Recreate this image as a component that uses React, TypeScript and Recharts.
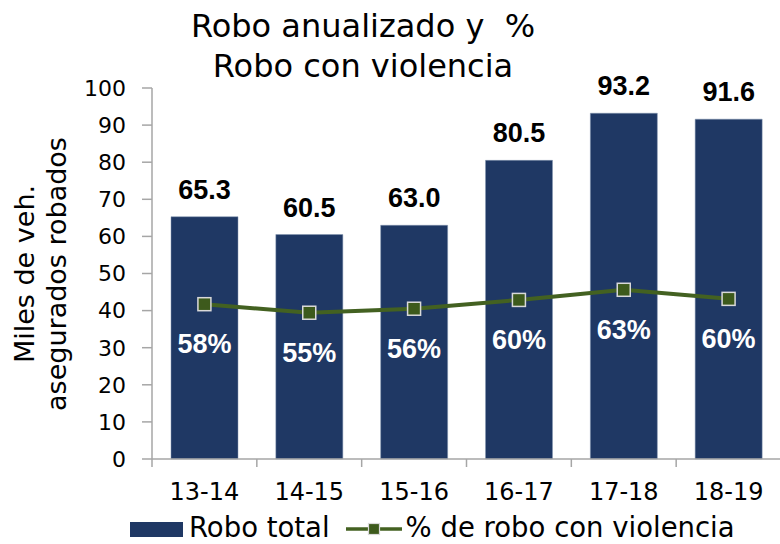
import React from 'react';
import { ComposedChart, Bar, Line, XAxis, YAxis, LabelList, Label } from 'recharts';

const categories = ['13-14', '14-15', '15-16', '16-17', '17-18', '18-19'];
const roboTotal = [65.3, 60.5, 63.0, 80.5, 93.2, 91.6];
const pctViolencia = [0.58, 0.548, 0.563, 0.596, 0.634, 0.6];
const yTicks = [0, 10, 20, 30, 40, 50, 60, 70, 80, 90, 100];

const data = categories.map((c, i) => ({ cat: c, total: roboTotal[i], pct: pctViolencia[i] }));

const FONT = '"DejaVu Sans", sans-serif';
const BOLD = '"Liberation Sans", Arial, sans-serif';
const BAR_COLOR = '#1F3864';
const LINE_COLOR = '#436121';
const MARKER_FILL = '#3D5A1C';
const AXIS_COLOR = '#A6A6A6';

const CHART_W = 780;
const CHART_H = 544;
const MARGIN = { top: 88, right: -1, bottom: 0, left: 0 };
const Y_W = 152;
const X_H = 85;
const TICK_SIZE = 6;
const TICK_MARGIN = 18;
const BAND = (CHART_W - MARGIN.left - MARGIN.right - Y_W) / categories.length;

const XTick = (props: any) => {
  const { x, y, payload, index } = props;
  const axisY = y - TICK_SIZE - TICK_MARGIN;
  const half = BAND / 2;
  return (
    <g>
      <line x1={x - half} y1={axisY} x2={x - half} y2={axisY + 8} stroke={AXIS_COLOR} strokeWidth={1.5} />
      {index === categories.length - 1 && (
        <line x1={x + half} y1={axisY} x2={x + half} y2={axisY + 8} stroke={AXIS_COLOR} strokeWidth={1.5} />
      )}
      <text x={x} y={y} dy="0.71em" textAnchor="middle" fontFamily={FONT} fontSize={24} fill="#000">
        {payload.value}
      </text>
    </g>
  );
};

const BarLabel = (props: any) => {
  const { x, y, width, value } = props;
  return (
    <text x={x + width / 2} y={y - 27} textAnchor="middle" dominantBaseline="central"
      fontFamily={BOLD} fontWeight="bold" fontSize={27} fill="#000">
      {Number(value).toFixed(1)}
    </text>
  );
};

const PctLabel = (props: any) => {
  const { x, y, value } = props;
  return (
    <text x={x} y={y + 40} textAnchor="middle" dominantBaseline="central"
      fontFamily={BOLD} fontWeight="bold" fontSize={27} fill="#fff">
      {Math.round(Number(value) * 100) + '%'}
    </text>
  );
};

const SquareDot = (props: any) => {
  const { cx, cy } = props;
  if (cx == null || cy == null) return null;
  return <rect x={cx - 6.5} y={cy - 6.5} width={13} height={13} fill={MARKER_FILL} stroke="#D9D9D9" strokeWidth={1.5} />;
};

const YLabel = () => (
  <g fontFamily={FONT} fontSize={27} fill="#000">
    <text x={24} y={274} textAnchor="middle" dominantBaseline="central" transform="rotate(-90, 24, 274)">Miles de veh.</text>
    <text x={56} y={274} textAnchor="middle" dominantBaseline="central" transform="rotate(-90, 56, 274)">asegurados robados</text>
  </g>
);

export default function App() {
  return (
    <div style={{ position: 'absolute', left: 0, top: 0, width: CHART_W, height: CHART_H, background: '#fff', overflow: 'hidden' }}>
      <div style={{ position: 'absolute', left: 163, top: 6, width: 400, textAlign: 'center', fontFamily: FONT, fontSize: 32, lineHeight: '40px', color: '#000' }}>
        <div style={{ whiteSpace: 'pre' }}>Robo anualizado y  %</div>
        <div>Robo con violencia</div>
      </div>
      <ComposedChart width={CHART_W} height={CHART_H} data={data} margin={MARGIN}>
        <XAxis dataKey="cat" height={X_H} axisLine={{ stroke: AXIS_COLOR, strokeWidth: 1.5 }} tickLine={false}
          tickSize={TICK_SIZE} tickMargin={TICK_MARGIN} tick={<XTick />} interval={0} />
        <YAxis yAxisId="l" domain={[0, 100]} ticks={yTicks} width={Y_W} tickSize={10} tickMargin={16}
          axisLine={{ stroke: AXIS_COLOR, strokeWidth: 1.5 }} tickLine={{ stroke: AXIS_COLOR, strokeWidth: 1.5 }}
          tick={{ fontFamily: FONT, fontSize: 22, fill: '#000' }} interval={0}>
          <Label content={<YLabel />} />
        </YAxis>
        <YAxis yAxisId="r" orientation="right" domain={[0, 1.39]} hide />
        <Bar yAxisId="l" dataKey="total" fill={BAR_COLOR} stroke="#8497B0" strokeWidth={0.5} barSize={67} isAnimationActive={false}>
          <LabelList dataKey="total" content={<BarLabel />} />
        </Bar>
        <Line yAxisId="r" dataKey="pct" stroke={LINE_COLOR} strokeWidth={4} dot={<SquareDot />} activeDot={false} isAnimationActive={false}>
          <LabelList dataKey="pct" content={<PctLabel />} />
        </Line>
      </ComposedChart>
      <div style={{ position: 'absolute', left: 130, top: 511, height: 32, lineHeight: '32px', display: 'flex', alignItems: 'center', fontFamily: FONT, fontSize: 27.5, color: '#000', whiteSpace: 'nowrap' }}>
        <span style={{ display: 'inline-block', width: 53, height: 15, background: BAR_COLOR, marginRight: 6, marginTop: 4 }} />
        <span>Robo total</span>
        <svg width={56} height={20} style={{ marginLeft: 16, marginRight: 4, marginTop: 4 }}>
          <line x1={0} y1={10} x2={56} y2={10} stroke={LINE_COLOR} strokeWidth={3.5} />
          <rect x={22.5} y={4.5} width={11} height={11} fill={MARKER_FILL} stroke="#D9D9D9" strokeWidth={1.2} />
        </svg>
        <span>% de robo con violencia</span>
      </div>
    </div>
  );
}
